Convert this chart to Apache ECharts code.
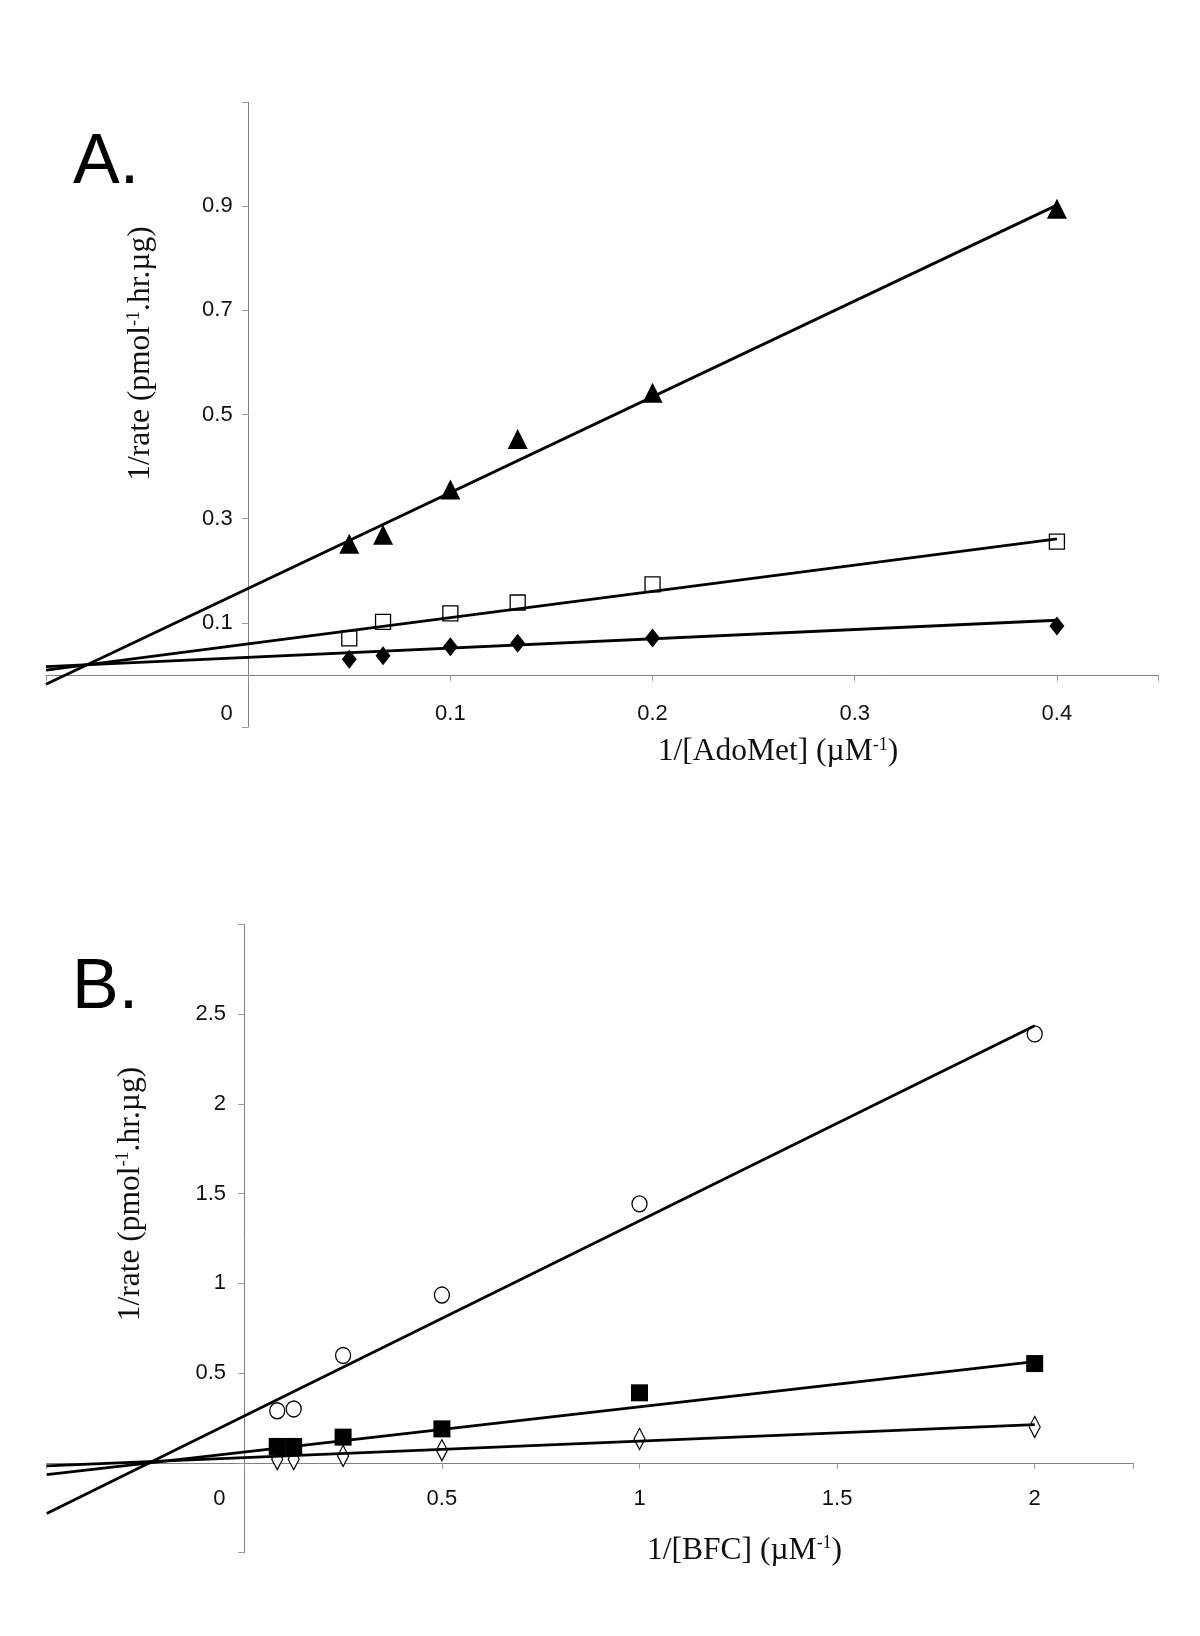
<!DOCTYPE html>
<html><head><meta charset="utf-8">
<script src="https://cdn.jsdelivr.net/npm/echarts@6/dist/echarts.min.js"></script>
<style>html,body{margin:0;padding:0;background:#fff}#c{width:1200px;height:1636px}</style>
</head><body><div id="c"></div>
<script>
// ---------- Panel A : 1/[AdoMet] ----------
const xAdoMet   = [0.05, 0.0667, 0.1, 0.1333, 0.2, 0.4];
const aTriangles = [0.252, 0.269, 0.356, 0.453, 0.542, 0.895];
const aSquares   = [0.070, 0.102, 0.118, 0.139, 0.174, 0.256];
const aDiamonds  = [0.030, 0.037, 0.054, 0.061, 0.071, 0.094];
const aTriLine = [[-0.1, -0.018], [0.4, 0.902]];
const aSqLine  = [[-0.1, 0.009], [0.4, 0.261]];
const aDiaLine = [[-0.1, 0.016], [0.4, 0.105]];
const aXTicks = ['0', '0.1', '0.2', '0.3', '0.4'];
const aYTicks = ['0.1', '0.3', '0.5', '0.7', '0.9'];

// ---------- Panel B : 1/[BFC] ----------
const xBFC      = [0.0833, 0.125, 0.25, 0.5, 1, 2];
const bCircles  = [0.29, 0.30, 0.598, 0.935, 1.443, 2.39];
const bSquares  = [0.091, 0.091, 0.143, 0.189, 0.39, 0.553];
const bDiamonds = [0.02, 0.02, 0.038, 0.07, 0.133, 0.2];
const bCircLine = [[-0.5, -0.283], [2, 2.436]];
const bSqLine   = [[-0.5, -0.066], [2, 0.564]];
const bDiaLine  = [[-0.5, -0.017], [2, 0.213]];
const bXTicks = ['0', '0.5', '1', '1.5', '2'];
const bYTicks = ['0.5', '1', '1.5', '2', '2.5'];

const SANS = 'Liberation Sans, Arial, sans-serif';
const SERIF = 'Liberation Serif, Times New Roman, serif';
const AXIS_GRAY = '#808080';
const LBL = 22;

function fmt(v) { return String(parseFloat(Number(v).toFixed(6))); }
function labelFn(list) {
  return function (v) {
    const s = fmt(v);
    if (list.indexOf(s) < 0) return '';
    return s === '0' ? '{z|0}' : s;
  };
}
function pts(xs, ys) { return xs.map((x, i) => [x, ys[i]]); }

function xAxisDef(gridIndex, min, max, interval, ticks, zeroPad, labelMargin, name, namePad, nameGap) {
  return {
    type: 'value', gridIndex, min, max, interval,
    axisLine: { onZero: true, lineStyle: { color: AXIS_GRAY, width: 1 } },
    axisTick: { show: true, inside: false, length: 6, lineStyle: { color: '#999' } },
    splitLine: { show: false },
    axisLabel: {
      margin: labelMargin, fontSize: LBL, fontFamily: SANS, color: '#111',
      formatter: labelFn(ticks),
      rich: { z: { padding: [0, zeroPad, 0, 0], fontSize: LBL, fontFamily: SANS, color: '#111' } }
    },
    name, nameLocation: 'middle', nameGap,
    nameTextStyle: {
      fontSize: 31.5, fontFamily: SERIF, color: '#111', padding: [0, 0, 0, namePad],
      rich: { sup: { fontSize: 18, fontFamily: SERIF, color: '#111', verticalAlign: 'top' } }
    }
  };
}
function yAxisDef(gridIndex, min, max, interval, ticks, labelMargin, name, namePad, nameGap) {
  return {
    type: 'value', gridIndex, min, max, interval,
    axisLine: { show: true, onZero: true, lineStyle: { color: AXIS_GRAY, width: 1 } },
    axisTick: { show: true, inside: false, length: 6, lineStyle: { color: '#999' } },
    splitLine: { show: false },
    axisLabel: { margin: labelMargin, fontSize: LBL, fontFamily: SANS, color: '#111', formatter: labelFn(ticks) },
    name, nameLocation: 'middle', nameRotate: 90, nameGap,
    nameTextStyle: {
      fontSize: 31.5, fontFamily: SERIF, color: '#111', padding: [0, 0, 0, namePad],
      rich: { sup: { fontSize: 18, fontFamily: SERIF, color: '#111', verticalAlign: 'top' } }
    }
  };
}
function scatter(idx, data, symbol, size, filled) {
  return {
    type: 'scatter', xAxisIndex: idx, yAxisIndex: idx, data, symbol, symbolSize: size, z: 2,
    itemStyle: filled ? { color: '#000', opacity: 1 } : { color: '#fff', borderColor: '#000', borderWidth: 1.3, opacity: 1 },
    silent: true
  };
}
function trend(idx, data) {
  return {
    type: 'line', xAxisIndex: idx, yAxisIndex: idx, data, showSymbol: false, symbol: 'none', z: 3,
    lineStyle: { color: '#000', width: 2.8 }, silent: true
  };
}

const chart = echarts.init(document.getElementById('c'), null, { renderer: 'canvas' });
chart.setOption({
  animation: false,
  backgroundColor: '#fff',
  title: [
    { text: 'A.', left: 68, top: 124, padding: 5, textStyle: { fontSize: 70, fontWeight: 'normal', fontFamily: SANS, color: '#000' } },
    { text: 'B.', left: 67, top: 949, padding: 5, textStyle: { fontSize: 70, fontWeight: 'normal', fontFamily: SANS, color: '#000' } }
  ],
  grid: [
    { left: 46, top: 102, width: 1112, height: 625, containLabel: false, outerBoundsMode: 'none' },
    { left: 46.7, top: 924.5, width: 1086.8, height: 628, containLabel: false, outerBoundsMode: 'none' }
  ],
  xAxis: [
    xAxisDef(0, -0.1, 0.45, 0.1, aXTicks, 43, -24, '1/[AdoMet] (µM{sup|-1})', 352, 9),
    xAxisDef(1, -0.5, 2.25, 0.5, bXTicks, 50, -65, '1/[BFC] (µM{sup|-1})', 309, -18)
  ],
  yAxis: [
    yAxisDef(0, -0.1, 1.1, 0.2, aYTicks, -186.7, '1/rate (pmol{sup|-1}.hr.µg)', 122, -111),
    yAxisDef(1, -0.5, 3, 0.5, bYTicks, -179.3, '1/rate (pmol{sup|-1}.hr.µg)', 89, -100)
  ],
  series: [
    scatter(0, pts(xAdoMet, aDiamonds), 'diamond', [15, 19], true),
    scatter(0, pts(xAdoMet, aSquares), 'rect', 15, false),
    scatter(0, pts(xAdoMet, aTriangles), 'triangle', 20, true),
    trend(0, aTriLine), trend(0, aSqLine), trend(0, aDiaLine),
    scatter(1, pts(xBFC, bDiamonds), 'diamond', [11, 21], false),
    scatter(1, pts(xBFC, bCircles), 'circle', [15, 16], false),
    scatter(1, pts(xBFC, bSquares), 'rect', 17, true),
    trend(1, bCircLine), trend(1, bSqLine), trend(1, bDiaLine)
  ]
});
</script></body></html>
